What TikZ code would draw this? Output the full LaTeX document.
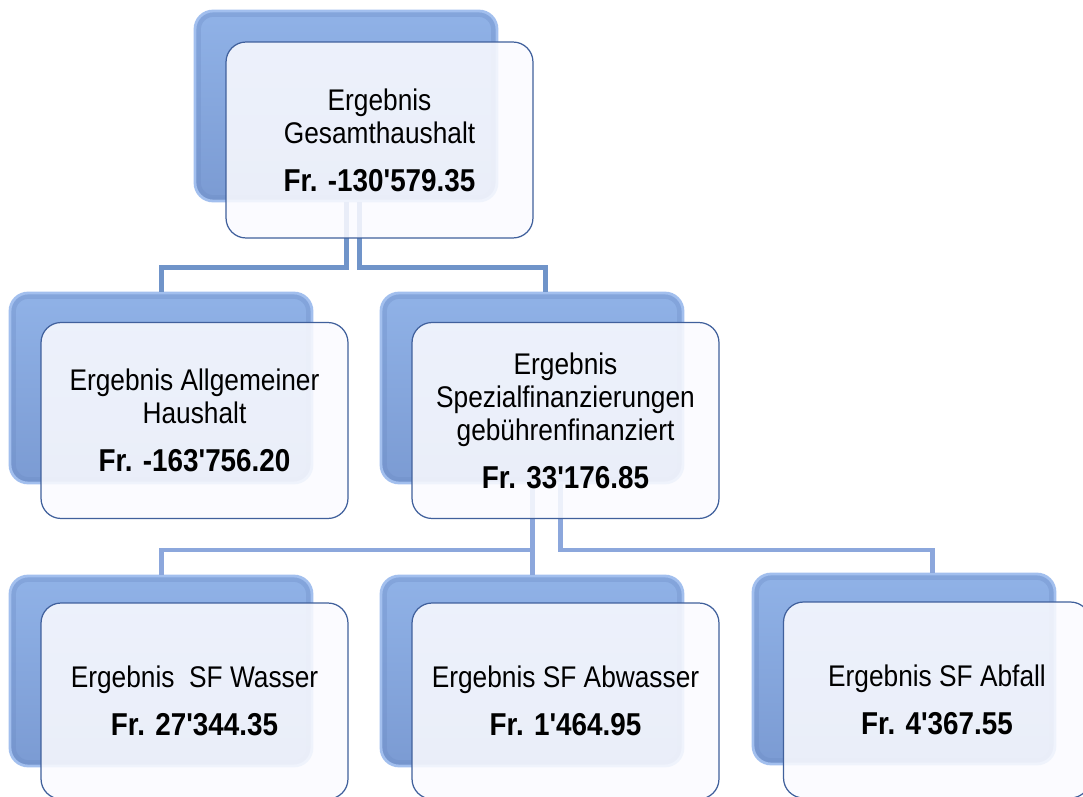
\documentclass[tikz,border=0pt]{standalone}
\usepackage{fontspec}
\setmainfont[Ligatures=TeXOff]{Liberation Sans}
\newfontfamily\narrowfont[Ligatures=TeXOff,FakeStretch=0.88]{Liberation Sans}
\newfontfamily\narrowbold[Ligatures=TeXOff,FakeStretch=0.88]{Liberation Sans Bold}
\usetikzlibrary{calc}
\definecolor{backtop}{HTML}{90B2E7}
\definecolor{backbot}{HTML}{7B9BD3}
\definecolor{backedge}{HTML}{A2BFEE}
\definecolor{backinner}{HTML}{6A89C2}
\definecolor{frontfill}{HTML}{FBFBFF}
\definecolor{frontedge}{HTML}{40609C}
\definecolor{linkA}{HTML}{7094C9}
\definecolor{linkB}{HTML}{8CA7DC}
\tikzset{
  backbox/.style={rounded corners=0.36cm, minimum width=6.04cm, minimum height=3.8cm,
    top color=backtop, bottom color=backbot, draw=backedge, line width=1.6pt, inner sep=0pt},
  bevel/.style={draw=backinner, line width=2.5pt, draw opacity=0.3, rounded corners=0.3cm},
  frontbox/.style={rounded corners=0.4cm, minimum width=6.14cm, minimum height=3.92cm,
    fill=frontfill, fill opacity=0.87, text opacity=1, draw=frontedge, line width=0.7pt,
    align=center, inner sep=0pt,
    font=\narrowfont\fontsize{17}{18.8}\selectfont},
  linkup/.style={draw=linkA, line width=0.1cm},
  linkdown/.style={draw=linkB, line width=0.1cm}
}
\newcommand{\amount}[1]{{\narrowbold\fontsize{18}{18.8}\selectfont #1}}
\begin{document}
\begin{tikzpicture}[x=0.02cm,y=-0.02cm]
\useasboundingbox (0,0) rectangle (1083,797);
\clip (0,0) rectangle (1083,797);
\fill[white] (0,0) rectangle (1083,797);
% junction levels
\coordinate (j1) at (0,268);
\coordinate (j2) at (0,550);
% back boxes
\node[backbox] (topb) at (346,106) {};
\node[backbox] (mlb) at (161,388) {};
\node[backbox] (mrb) at (532,388) {};
\node[backbox] (blb) at (161,671) {};
\node[backbox] (bmb) at (532,671) {};
\node[backbox] (brb) at (904,669) {};
\foreach \b in {topb,mlb,mrb,blb,bmb,brb}{
  \draw[bevel] ($(\b.north west)+(5,5)$) rectangle ($(\b.south east)+(-5,-5)$);
}
% connectors
\draw[linkup] (topb.south) -- (topb.south |- j1) -| (mlb.north);
\draw[linkup] ($(topb.south)+(13,0)$) coordinate (ta) -- (ta |- j1) -| ($(mrb.north)+(13,0)$);
\draw[linkdown] (mrb.south) -- (mrb.south |- j2) -| (blb.north);
\draw[linkdown] (mrb.south) -- (bmb.north);
\draw[linkdown] ($(mrb.south)+(28,0)$) coordinate (ma) -- (ma |- j2) -| ($(brb.north)+(28,0)$);
% front boxes
\node[frontbox] (top) at (379.5,140) {Ergebnis\\Gesamthaushalt\\[8.5pt]\amount{Fr. -130'579.35}};
\node[frontbox] (ml) at (194.5,420.5) {Ergebnis Allgemeiner\\Haushalt\\[8.5pt]\amount{Fr. -163'756.20}};
\node[frontbox] (mr) at (565.5,420.5) {Ergebnis\\Spezialfinanzierungen\\geb\"uhrenfinanziert\\[8.5pt]\amount{Fr. 33'176.85}};
\node[frontbox] (bl) at (194.5,701) {Ergebnis\ \ SF Wasser\\[8.5pt]\amount{Fr. 27'344.35}};
\node[frontbox] (bm) at (565.5,701) {Ergebnis SF Abwasser\\[8.5pt]\amount{Fr. 1'464.95}};
\node[frontbox] (br) at (937,700) {Ergebnis SF Abfall\\[8.5pt]\amount{Fr. 4'367.55}};
\end{tikzpicture}
\end{document}
